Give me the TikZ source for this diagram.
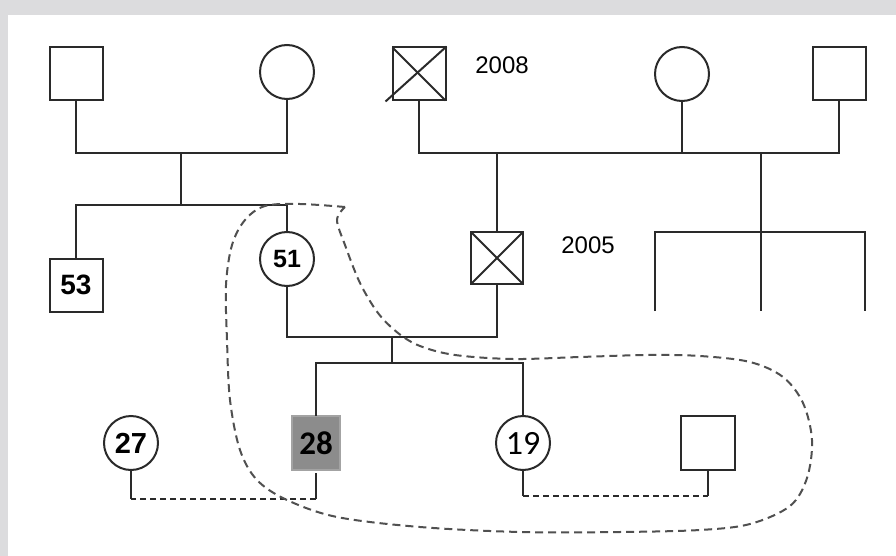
\documentclass[tikz,border=0pt]{standalone}
\usepackage{fontspec}
\usetikzlibrary{calc}
\setmainfont{Liberation Sans}
\newfontfamily\calib{Carlito}
\definecolor{frame}{HTML}{DCDCDE}
\definecolor{ink}{HTML}{2A2A2A}
\definecolor{hatch}{HTML}{505050}
\definecolor{affected}{HTML}{8C8C8C}
\begin{document}
\begin{tikzpicture}[x=1pt,y=-1pt,
  every node/.style={inner sep=0pt, outer sep=0pt, line width=2pt, draw=ink, text=black},
  male/.style={rectangle, minimum width=53pt, minimum height=53pt},
  female/.style={circle, minimum size=54pt},
  rel/.style={line width=2pt, draw=ink},
  couple/.style={line width=2pt, draw=ink, dash pattern=on 6pt off 4pt},
  outline/.style={line width=2pt, draw=hatch, dash pattern=on 8pt off 5pt},
  big/.style={font=\fontsize{28}{30}\selectfont\bfseries},
  year/.style={draw=none, font=\fontsize{24}{26}\selectfont}]
  % frame
  \fill[frame] (0,0) rectangle (896,556);
  \fill[white] (8,15) rectangle (896,556);
  \useasboundingbox (0,0) rectangle (896,556);

  % first generation
  \node[male]   (gf)  at (76,74)  {};
  \node[female] (gm)  at (287,72) {};
  \node[male]   (gfc) at (419,74) {};
  \draw[rel] (gfc.north west) -- (gfc.south east);
  \draw[rel] ($(gfc.north east)+(1,-1)$) -- ($(gfc.south west)+(-7,1)$);
  \node[year] (y1) at (502,65) {2008};
  \node[female] (gmd) at (682,74) {};
  \node[male]   (gs)  at (839,74) {};

  % second generation
  \node[male, big]   (u53) at (76,285)  {53};
  \node[female, font=\fontsize{25}{27}\selectfont\bfseries] (m51) at (287,259) {51};
  \node[male, minimum width=52pt, minimum height=52pt] (f) at (497,258) {};
  \draw[rel] (f.north west) -- (f.south east);
  \draw[rel] (f.north east) -- (f.south west);
  \node[year] (y2) at (588,245) {2005};

  % third generation
  \node[female, font=\fontsize{29}{31}\selectfont\bfseries] (p27) at (131,443) {27};
  \node[male, minimum width=48pt, minimum height=54pt, fill=affected, draw=affected!80!white,
        font=\calib\fontsize{33}{35}\selectfont\bfseries] (p28) at (316,443) {28};
  \node[female, font=\calib\fontsize{34}{36}\selectfont] (p19) at (523,443) {19};
  \node[male, minimum width=54pt, minimum height=54pt] (pg) at (708,443) {};

  % junction points
  \coordinate (c1) at (181,153);
  \coordinate (c2) at (181,205);
  \coordinate (c3) at (497,153);
  \coordinate (c4) at (761,153);
  \coordinate (c5) at (761,232);
  \coordinate (a1) at (655,311);
  \coordinate (a2) at (761,311);
  \coordinate (a3) at (865,311);
  \coordinate (c6) at (392,337);
  \coordinate (c7) at (392,363);
  \coordinate (d1) at (0,499);
  \coordinate (d2) at (0,496);

  % left family
  \draw[rel] (gf.south) |- (c1) -| (gm.south);
  \draw[rel] (c1) -- (c2);
  \draw[rel] (u53.north) |- (c2) -| (m51.north);

  % right family
  \draw[rel] (gfc.south) |- (gs.south|-c3) -- (gs.south);
  \draw[rel] (gmd.south) -- (gmd.south|-c3);
  \draw[rel] (c3) -- (f.north);
  \draw[rel] (c4) -- (c5);
  \draw[rel] (a1) |- (c5) -| (a3);
  \draw[rel] (c5) -- (a2);

  % couple 51 and deceased partner, children
  \draw[rel] (m51.south) |- (c6) -| (f.south);
  \draw[rel] (c6) -- (c7);
  \draw[rel] (p28.north) |- (c7) -| (p19.north);

  % unmarried partners
  \draw[rel] ($(p28.south)+(0,3)$) -- (p28.south|-d1);
  \draw[couple] (p28.south|-d1) -- (p27.south|-d1);
  \draw[rel] (p27.south|-d1) -- (p27.south);
  \draw[rel] (p19.south) -- (p19.south|-d2);
  \draw[couple] (p19.south|-d2) -- (pg.south|-d2);
  \draw[rel] (pg.south|-d2) -- (pg.south);

  % dashed outline of the household
  \draw[outline] plot[smooth, tension=0.55] coordinates {
    (345,207) (300,204) (265,206) (245,220) (232,245) (226,285) (227,340)
    (230,400) (240,450) (257,480) (287,500) (337,517) (420,527) (520,532)
    (620,532) (700,530) (750,524) (790,506) (807,478) (812,440) (803,403)
    (783,377) (750,362) (700,356) (647,355) (580,357) (513,359) (455,355)
    (420,346) (398,333) (378,313) (360,283) (345,245) (337,220) (345,207)};
\end{tikzpicture}
\end{document}
